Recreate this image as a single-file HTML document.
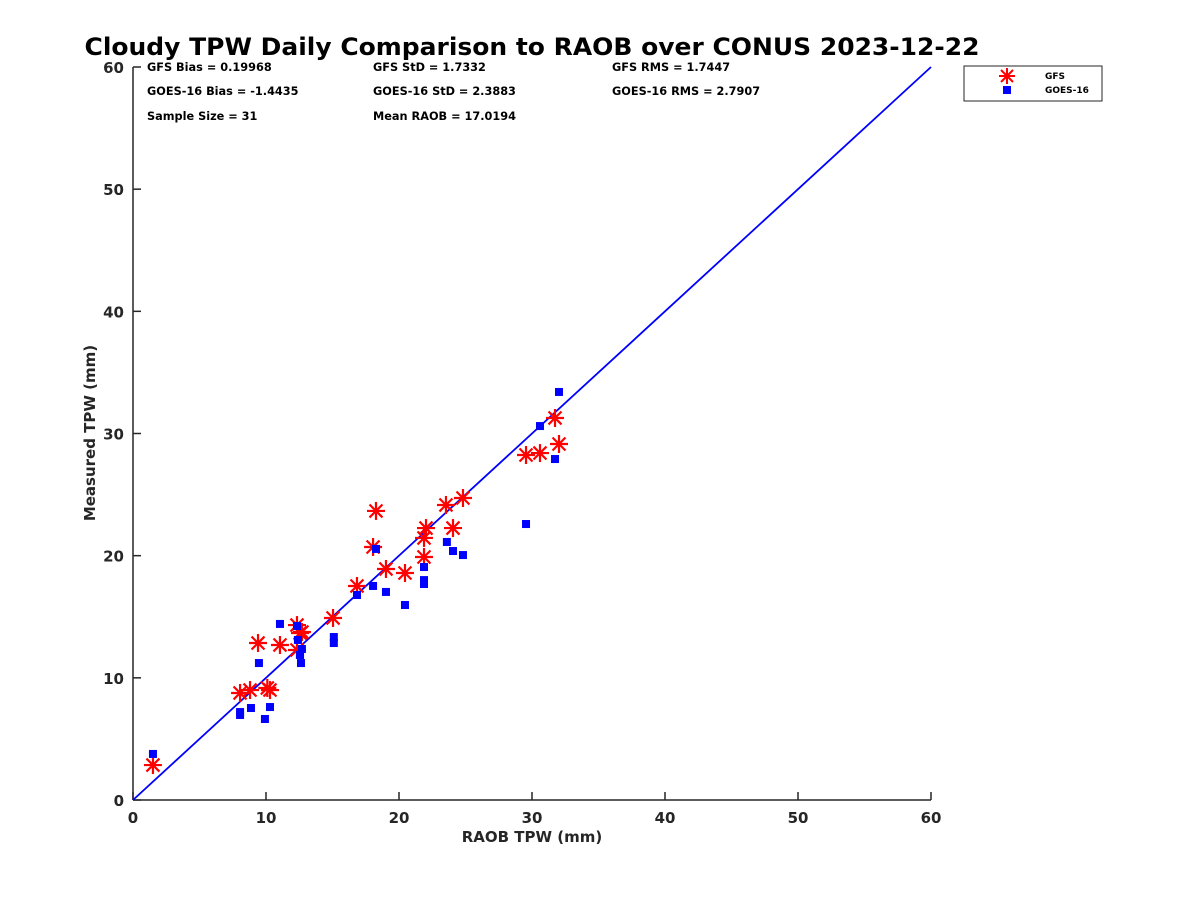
<!DOCTYPE html>
<html><head><meta charset="utf-8"><style>
body{margin:0;background:#fff;}
svg text{font-family:"DejaVu Sans","Liberation Sans",sans-serif;font-weight:bold;fill:#262626;}
</style></head><body>
<svg id="chart" width="1200" height="900" xmlns="http://www.w3.org/2000/svg">
<rect width="1200" height="900" fill="#fff"/>
<text x="532" y="55" text-anchor="middle" font-size="24" textLength="895" lengthAdjust="spacingAndGlyphs" style="fill:#000">Cloudy TPW Daily Comparison to RAOB over CONUS 2023-12-22</text>
<g id="axes"></g>
<g id="marks"></g>
<g font-size="11.3">
<text x="147" y="71" style="fill:#000">GFS Bias = 0.19968</text>
<text x="373" y="71" style="fill:#000">GFS StD = 1.7332</text>
<text x="612" y="71" style="fill:#000">GFS RMS = 1.7447</text>
<text x="147" y="95" style="fill:#000">GOES-16 Bias = -1.4435</text>
<text x="373" y="95" style="fill:#000">GOES-16 StD = 2.3883</text>
<text x="612" y="95" style="fill:#000">GOES-16 RMS = 2.7907</text>
<text x="147" y="120" style="fill:#000">Sample Size = 31</text>
<text x="373" y="120" style="fill:#000">Mean RAOB = 17.0194</text>
</g>
<g>
<rect x="964" y="66" width="138" height="35" fill="#fff" stroke="#262626" stroke-width="1"/>
<g stroke="#f00" stroke-width="2">
<line x1="1001" y1="70" x2="1013" y2="82"/><line x1="1013" y1="70" x2="1001" y2="82"/><line x1="999" y1="76" x2="1015" y2="76"/><line x1="1007" y1="68" x2="1007" y2="84"/>
</g>
<text x="1045" y="79" font-size="9" style="fill:#000">GFS</text>
<rect x="1003" y="86" width="8" height="8" fill="#00f"/>
<text x="1045" y="93" font-size="9" style="fill:#000">GOES-16</text>
</g>
</svg>
<script>
const xTicks=[0,10,20,30,40,50,60];
const yTicks=[0,10,20,30,40,50,60];
const raobGFS=[1.5,8.05,8.8,10.1,10.3,9.4,11.05,12.33,12.7,12.56,12.33,15.04,16.84,19.02,20.45,21.88,21.88,22.03,18.05,18.27,23.53,24.06,24.81,29.55,30.6,32.03,31.73];
const gfsVals=[2.86,8.76,9.0,9.17,9.0,12.85,12.69,14.32,13.75,13.67,12.28,14.9,17.52,18.91,18.58,19.89,21.45,22.26,20.71,23.66,24.15,22.26,24.72,28.24,28.4,29.14,31.27];
const raobGOES=[1.5,8.05,8.05,8.87,9.92,10.3,9.47,11.05,12.33,12.4,12.7,12.56,12.63,15.1,15.1,16.84,18.05,19.02,20.45,21.88,21.88,21.88,18.27,23.6,24.06,24.81,29.55,30.6,31.73,32.03];
const goesVals=[3.77,7.2,6.96,7.53,6.63,7.61,11.21,14.41,14.24,13.1,12.36,11.87,11.21,13.34,12.85,16.78,17.52,17.03,15.96,19.07,18.0,17.68,20.55,21.12,20.38,20.05,22.59,30.61,27.91,33.4];
const NS='http://www.w3.org/2000/svg';
const X0=133,X1=931,Y0=800,Y1=67;
function sx(v){return X0+(v-0)/60*(X1-X0);}
function sy(v){return Y0-(v-0)/60*(Y0-Y1);}
function mk(tag,attrs,parent){const e=document.createElementNS(NS,tag);for(const k in attrs)e.setAttribute(k,attrs[k]);parent.appendChild(e);return e;}
const axes=document.getElementById('axes'),marks=document.getElementById('marks');
let l=mk('line',{x1:X0,y1:Y0,x2:X1,y2:Y0,stroke:'#262626','stroke-width':1.5},axes);


l=mk('line',{x1:X0,y1:Y0,x2:X0,y2:Y1,stroke:'#262626','stroke-width':1.5},axes);


xTicks.forEach(t=>{
 mk('line',{x1:sx(t),y1:Y0,x2:sx(t),y2:Y0-8,stroke:'#262626','stroke-width':1.5},axes);
 const tx=mk('text',{x:sx(t),y:Y0+23,'text-anchor':'middle','font-size':15},axes);tx.textContent=t;
 
 
});
yTicks.forEach(t=>{
 mk('line',{x1:X0,y1:sy(t),x2:X0+8,y2:sy(t),stroke:'#262626','stroke-width':1.5},axes);
 const tx=mk('text',{x:X0-9,y:sy(t)+6,'text-anchor':'end','font-size':15},axes);tx.textContent=t;
 
 
});
let xt=mk('text',{x:532,y:842,'text-anchor':'middle','font-size':15},axes);xt.textContent='RAOB TPW (mm)';


let yt=mk('text',{x:95,y:433,'text-anchor':'middle','font-size':15,transform:'rotate(-90 95 433)'},axes);yt.textContent='Measured TPW (mm)';


let one=mk('line',{x1:sx(0),y1:sy(0),x2:sx(60),y2:sy(60),stroke:'#00f','stroke-width':1.8},marks);


raobGFS.forEach((r,i)=>{
 const cx=sx(r),cy=sy(gfsVals[i]),s=9;
 const g=mk('g',{stroke:'#f00','stroke-width':2.2},marks);
 
 
 mk('line',{x1:cx-s,y1:cy,x2:cx+s,y2:cy},g);
 mk('line',{x1:cx,y1:cy-s,x2:cx,y2:cy+s},g);
 mk('line',{x1:cx-s*0.72,y1:cy-s*0.72,x2:cx+s*0.72,y2:cy+s*0.72},g);
 mk('line',{x1:cx-s*0.72,y1:cy+s*0.72,x2:cx+s*0.72,y2:cy-s*0.72},g);
});
raobGOES.forEach((r,i)=>{
 const q=mk('rect',{x:sx(r)-4,y:sy(goesVals[i])-4,width:8,height:8,fill:'#00f'},marks);
 
 
});
</script>
</body></html>
